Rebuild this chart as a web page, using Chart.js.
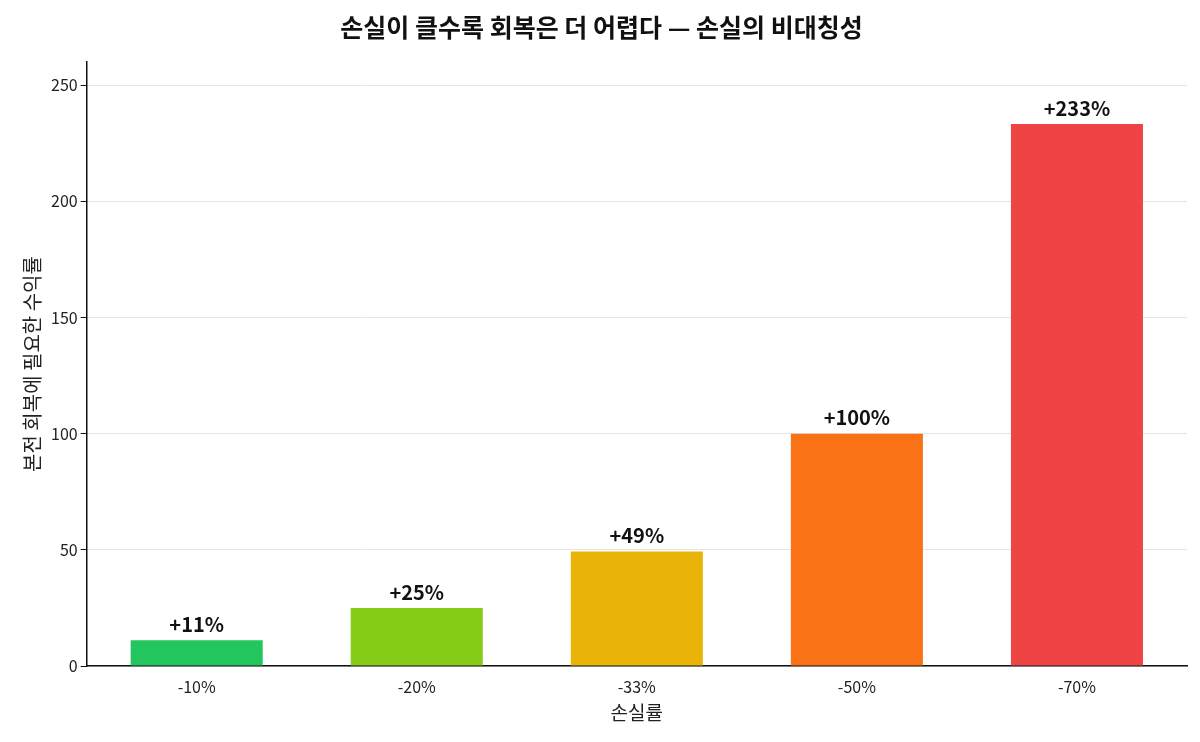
<!DOCTYPE html>
<html>
<head>
<meta charset="utf-8">
<script src="https://cdn.jsdelivr.net/npm/chart.js@4"></script>
<style>
  body { margin: 0; background: #fff; }
  #wrap { width: 1200px; height: 742px; }
</style>
</head>
<body>
<div id="wrap"><canvas id="chart"></canvas></div>
<script>
const lossLabels = ["-10%", "-20%", "-33%", "-50%", "-70%"];
const recoveryValues = [11.1, 25, 49.3, 100, 233.3];
const valueTexts = ["+11%", "+25%", "+49%", "+100%", "+233%"];
const barColors = ["#22c55e", "#84cc16", "#eab308", "#f97316", "#ef4444"];

const FONT = "'Noto Sans CJK KR', 'Noto Sans', sans-serif";

/* labels above bars */
const barLabels = {
  id: "barLabels",
  afterDatasetsDraw(chart) {
    const ctx = chart.ctx;
    const meta = chart.getDatasetMeta(0);
    ctx.save();
    ctx.font = "bold 20px " + FONT;
    ctx.fillStyle = "#111";
    ctx.textAlign = "center";
    ctx.textBaseline = "bottom";
    meta.data.forEach((bar, i) => {
      ctx.fillText(valueTexts[i], bar.x, bar.y - 6);
    });
    ctx.restore();
  }
};

new Chart(document.getElementById("chart"), {
  type: "bar",
  data: {
    labels: lossLabels,
    datasets: [{
      data: recoveryValues,
      backgroundColor: barColors,
      borderWidth: 0,
      categoryPercentage: 1,
      barPercentage: 0.6
    }]
  },
  options: {
    responsive: true,
    maintainAspectRatio: false,
    animation: false,
    layout: { padding: { left: 16, right: 13, bottom: 14, top: 8 } },
    plugins: {
      legend: { display: false },
      tooltip: { enabled: false },
      title: {
        display: true,
        text: "손실이 클수록 회복은 더 어렵다 — 손실의 비대칭성",
        color: "#111",
        font: { family: FONT, size: 25, weight: "bold" },
        padding: { top: 4, bottom: 20 }
      }
    },
    scales: {
      x: {
        grid: { display: false },
        border: { color: "#111", width: 1.5 },
        ticks: { color: "#222", font: { family: FONT, size: 16 } },
        title: {
          display: true, text: "손실률", color: "#222",
          font: { family: FONT, size: 19 }, padding: { top: 2 }
        }
      },
      y: {
        min: 0, max: 260,
        afterBuildTicks(axis) {
          axis.ticks = [0, 50, 100, 150, 200, 250].map(v => ({ value: v }));
        },
        grid: { color: "#e5e5e5", drawTicks: true, tickLength: 6, tickColor: "#111" },
        border: { color: "#111", width: 1.5 },
        ticks: { color: "#222", font: { family: FONT, size: 16 } },
        title: {
          display: true, text: "본전 회복에 필요한 수익률", color: "#222",
          font: { family: FONT, size: 20 }
        }
      }
    }
  },
  plugins: [barLabels]
});
</script>
</body>
</html>
